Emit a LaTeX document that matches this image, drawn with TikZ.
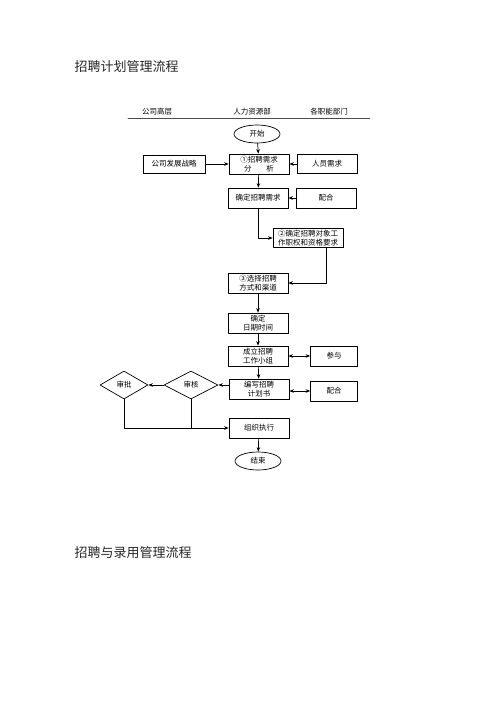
\documentclass[tikz,border=0pt]{standalone}
\usepackage{fontspec}
\setmainfont{Noto Sans CJK SC}
\usetikzlibrary{shapes.geometric,shadows,arrows.meta}
\begin{document}
\begin{tikzpicture}[x=1pt,y=-1pt,>={Stealth[length=4.5pt,width=3.6pt]}, font=\fontsize{7.5}{9}\selectfont, line join=round, line cap=round,
	box/.style={draw, fill=white, line width=.7pt, minimum width=60pt, minimum height=20pt, inner sep=1pt, align=center,
		drop shadow={shadow xshift=.8pt, shadow yshift=-.8pt, fill=black!70, opacity=1}},
	oval/.style={draw, line width=.7pt, ellipse, minimum width=46pt, minimum height=18pt, inner sep=0pt},
	dia/.style={draw, line width=.7pt, diamond, minimum width=54pt, minimum height=28pt, inner sep=0pt},
	link/.style={->, line width=.7pt}]
	\useasboundingbox (0,0) rectangle (500,707);
	% titles
	\node[anchor=west, font=\fontsize{13}{15}\selectfont, black!85] (t1) at (71,67) {招聘计划管理流程};
	\node[anchor=west, font=\fontsize{13}{15}\selectfont, black!85] (t2) at (71,553) {招聘与录用管理流程};
	% header
	\foreach \t/\x in {公司高层/157, 人力资源部/252, 各职能部门/329}{
		\node at (\x,112) {\t};
	}
	\draw[line width=.9pt, black!70] (128,118)--(370,118);
	% nodes
	\node[oval] (start) at (257,134) {开始};
	\node[box] (analyse) at (259,164) {①招聘需求\\分\hspace{2em}析};
	\node[box, minimum width=62pt, minimum height=18pt] (strategy) at (174,164) {公司发展战略};
	\node[box, minimum height=19pt] (demand) at (327,164) {人员需求};
	\node[box] (fix) at (258,198) {确定招聘需求};
	\node[box] (help) at (326,198) {配合};
	\node[box, minimum width=70pt, minimum height=19pt] (scope) at (308,238) {②确定招聘对象工\\作职权和资格要求};
	\node[box] (channel) at (258,283) {③选择招聘\\方式和渠道};
	\node[box] (date) at (258,323) {确定\\日期时间};
	\node[box] (team) at (258,356) {成立招聘\\工作小组};
	\node[box, minimum width=47pt] (join) at (334,356) {参与};
	\node[box] (plan) at (259,389) {编写招聘\\计划书};
	\node[box, minimum width=47pt] (assist) at (334,391) {配合};
	\node[dia] (check) at (191,385) {审核};
	\node[dia, minimum width=48pt] (approve) at (124,385) {审批};
	\node[box] (run) at (259,428) {组织执行};
	\node[oval] (stop) at (258,461) {结束};
	% connectors
	\draw[link] (start)--(analyse);
	\draw[link] (strategy)--(analyse);
	\draw[link] (demand)--(analyse);
	\draw[link] (analyse)--(fix);
	\draw[link] (help)--(fix);
	\draw[link] (fix.south) |- (scope.west);
	\draw[link] ([xshift=18pt]scope.south) |- (channel.east);
	\draw[link] (channel)--(date);
	\draw[link] (date)--(team);
	\draw[link, <->] (team)--(join);
	\draw[link] (team)--(plan);
	\draw[link, <->] (plan.east |- assist)--(assist.west);
	\draw[link] (plan.west |- check)--(check.east);
	\draw[link] (check)--(approve);
	\draw[link] (approve.south) |- (run.west);
	\draw[line width=.7pt] (check.south)--(check.south |- run.west);
	\draw[link] (run)--(stop);
\end{tikzpicture}
\end{document}
